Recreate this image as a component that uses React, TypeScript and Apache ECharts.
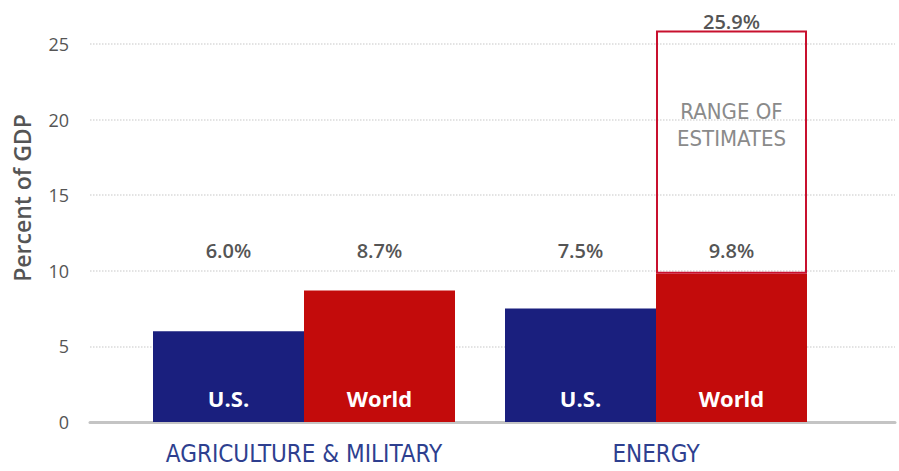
import React, { useEffect, useRef } from "react";
import * as echarts from "echarts";

const categories = ["AGRICULTURE & MILITARY", "ENERGY"];
const seriesNames = ["U.S.", "World"];
const usValues = [6.0, 7.5];
const worldValues = [8.7, 9.8];
const worldHigh: (number | null)[] = [null, 25.9];
const yMin = 0;
const yMax = 25;
const yInterval = 5;
const axisName = "Percent of GDP";
const rangeText = ["RANGE OF", "ESTIMATES"];

const NAVY = "#1a1f7e";
const RED = "#c30b0b";
const GREY = "#555555";
const NARROW = "'Liberation Sans Narrow', 'DejaVu Sans Condensed', sans-serif";
const SANS = "'Open Sans', 'Noto Sans', sans-serif";

export default function App() {
  const ref = useRef<HTMLDivElement>(null);
  useEffect(() => {
    if (!ref.current) return;
    const chart = echarts.init(ref.current, undefined, { renderer: "svg" });
    const rangeExtra = worldHigh.map((v, i) =>
      v == null ? null : +(v - worldValues[i]).toFixed(1)
    );
    const barLabel = {
      show: true,
      position: "insideBottom",
      distance: 9,
      formatter: (p: any) =>
        `{v|${Number(p.value).toFixed(1)}%}\n{g| }\n{n|${p.seriesName}}`,
      rich: {
        v: { fontSize: 20, fontWeight: 600, color: GREY, lineHeight: 30, fontFamily: SANS },
        g: { fontSize: 1, lineHeight: 118 },
        n: { fontSize: 22, fontWeight: 700, color: "#ffffff", lineHeight: 30, fontFamily: SANS },
      },
    };
    chart.setOption({
      animation: false,
      grid: [
        { left: 90, right: 4, top: 44, bottom: 49 },
        { left: 128, right: 67, top: 44, bottom: 49 },
      ],
      xAxis: [
        {
          gridIndex: 0,
          type: "value",
          min: 0,
          max: 1,
          axisLine: { show: true, onZero: false, lineStyle: { color: "#c4c4c4", width: 3 } },
          axisTick: { show: false },
          axisLabel: { show: false },
          splitLine: { show: false },
        },
        {
          gridIndex: 1,
          type: "category",
          data: categories,
          axisLine: { show: false },
          axisTick: { show: false },
          axisLabel: {
            interval: 0,
            color: "#2e3f8f",
            fontSize: 24,
            fontFamily: NARROW,
            margin: 20,
          },
        },
      ],
      yAxis: [
        {
          gridIndex: 0,
          type: "value",
          min: yMin,
          max: yMax,
          interval: yInterval,
          axisLine: { show: false },
          axisTick: { show: false },
          axisLabel: { color: GREY, fontSize: 18, fontFamily: SANS, margin: 21 },
          splitLine: { show: true, lineStyle: { color: "#dadada", type: "dotted", width: 1.5 } },
        },
        {
          gridIndex: 1,
          type: "value",
          min: yMin,
          max: yMax,
          interval: yInterval,
          show: false,
          splitLine: { show: false },
        },
      ],
      graphic: [
        {
          type: "text",
          x: 22,
          y: 198,
          rotation: Math.PI / 2,
          style: {
            text: axisName,
            fill: GREY,
            fontSize: 23,
            fontWeight: 600,
            fontFamily: SANS,
            align: "center",
            verticalAlign: "middle",
          },
        },
      ],
      series: [
        {
          name: seriesNames[0],
          type: "bar",
          xAxisIndex: 1,
          yAxisIndex: 1,
          data: usValues,
          barWidth: 151,
          barGap: "0%",
          itemStyle: { color: NAVY },
          label: barLabel,
        },
        {
          name: seriesNames[1],
          type: "bar",
          xAxisIndex: 1,
          yAxisIndex: 1,
          stack: "world",
          data: worldValues,
          barWidth: 151,
          barGap: "0%",
          itemStyle: { color: RED },
          label: barLabel,
        },
        {
          name: "Range",
          type: "bar",
          xAxisIndex: 1,
          yAxisIndex: 1,
          stack: "world",
          data: rangeExtra,
          barWidth: 151,
          barGap: "0%",
          clip: false,
          itemStyle: { color: "rgba(255,255,255,0)", borderColor: "#c8102e", borderWidth: 2 },
          label: {
            show: true,
            position: ["50%", -24],
            align: "center",
            verticalAlign: "top",
            formatter: (p: any) => {
              const hi = worldHigh[p.dataIndex];
              return `{t|${Number(hi).toFixed(1)}%}\n{g| }\n{r|${rangeText[0]}}\n{r|${rangeText[1]}}`;
            },
            rich: {
              t: { fontSize: 20, fontWeight: 600, color: GREY, lineHeight: 30, fontFamily: SANS },
              g: { fontSize: 1, lineHeight: 62 },
              r: { fontSize: 22, color: "#8a8a8a", lineHeight: 27, fontFamily: NARROW },
            },
          },
        },
      ],
    });
    return () => chart.dispose();
  }, []);
  return (
    <div
      ref={ref}
      style={{ position: "absolute", left: 0, top: 0, width: 899, height: 471, background: "#fff" }}
    />
  );
}
